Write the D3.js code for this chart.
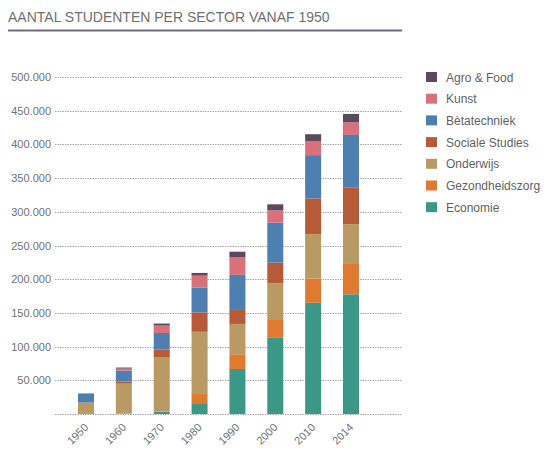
<!DOCTYPE html>
<html>
<head>
<meta charset="utf-8">
<script src="https://cdn.jsdelivr.net/npm/d3@7"></script>
<style>
  body { margin: 0; background: #fff; }
  text { font-family: "Liberation Sans", Arial, sans-serif; }
</style>
</head>
<body>
<svg id="chart"></svg>
<script>
// Data (students, thousands)
const years = ["1950", "1960", "1970", "1980", "1990", "2000", "2010", "2014"];
const sectors = ["Economie", "Gezondheidszorg", "Onderwijs", "Sociale Studies", "Bètatechniek", "Kunst", "Agro & Food"];
const economie       = [0.5, 0, 3, 14.8, 66.8, 113.8, 165, 177.6];
const gezondheidszorg = [1, 0.5, 0.5, 14.8, 21.8, 25.7, 36.1, 45];
const onderwijs      = [15, 44.5, 81, 92.4, 45, 54.4, 65.7, 58.9];
const socialeStudies = [0.5, 3.4, 11, 28.8, 20.8, 30.6, 53, 54.9];
const betatechniek   = [13, 16, 24.7, 36.5, 52, 59.3, 64.3, 77.6];
const kunst          = [0.5, 3, 11, 18, 26, 18.3, 21, 18.8];
const agroFood       = [0.3, 1.5, 3, 4, 8.4, 9, 10, 12.4];
const yTicks = [50000, 100000, 150000, 200000, 250000, 300000, 350000, 400000, 450000, 500000];
const colors = ["#3b9886", "#e07a30", "#b99a64", "#b65a3a", "#4d7fb0", "#d9707a", "#5b4a5f"];

const seriesValues = [economie, gezondheidszorg, onderwijs, socialeStudies, betatechniek, kunst, agroFood];
const table = years.map((y, i) => {
    const row = { year: y };
    sectors.forEach((s, k) => { row[s] = seriesValues[k][i] * 1000; });
    return row;
});

const W = 546, H = 460;
const svg = d3.select("#chart").attr("width", W).attr("height", H);

// Title with underline
svg.append("text")
    .attr("x", 8).attr("y", 22)
    .attr("fill", "#707070")
    .style("font-size", "14px")
    .text("AANTAL STUDENTEN PER SECTOR VANAF 1950");
svg.append("line")
    .attr("x1", 8).attr("x2", 402)
    .attr("y1", 30.5).attr("y2", 30.5)
    .attr("stroke", "#6c6a80").attr("stroke-width", 2);

// Scales
const x = d3.scaleBand().domain(years).range([78, 359]).paddingInner(0.577).paddingOuter(0);
const y = d3.scaleLinear().domain([0, 500000]).range([414, 77]);

// Grid lines
const grid = svg.append("g");
grid.selectAll("line")
    .data([0].concat(yTicks))
  .enter().append("line")
    .attr("x1", 55).attr("x2", 402)
    .attr("y1", d => Math.round(y(d)) + 0.5)
    .attr("y2", d => Math.round(y(d)) + 0.5)
    .attr("stroke", "#a9a6ab")
    .attr("stroke-dasharray", "1.5,1");

// Y axis labels
const fmt = d => d3.format(",")(d).replace(/,/g, ".");
const yAxis = svg.append("g")
    .attr("transform", "translate(51,0)")
    .call(d3.axisLeft(y).tickValues(yTicks).tickSize(0).tickPadding(0).tickFormat(fmt));
yAxis.select(".domain").remove();
yAxis.selectAll("text")
    .attr("fill", "#707078")
    .style("font-size", "11px");

// Stacked bars
const stack = d3.stack().keys(sectors)(table);
svg.append("g").selectAll("g")
    .data(stack)
  .enter().append("g")
    .attr("fill", (d, i) => colors[i])
  .selectAll("rect")
    .data(d => d)
  .enter().append("rect")
    .attr("x", d => x(d.data.year))
    .attr("width", x.bandwidth())
    .attr("y", d => y(d[1]))
    .attr("height", d => Math.max(0, y(d[0]) - y(d[1])));

// X axis labels (rotated)
const xAxis = svg.append("g")
    .attr("transform", "translate(0,419)")
    .call(d3.axisBottom(x).tickSize(0).tickPadding(0));
xAxis.select(".domain").remove();
xAxis.selectAll("text")
    .attr("fill", "#707078")
    .style("font-size", "11px")
    .attr("text-anchor", "end")
    .attr("dy", 0)
    .attr("transform", "translate(3,9) rotate(-45)");

// Legend (top entry first)
const legendKeys = sectors.slice().reverse();
const legendColors = colors.slice().reverse();
const legend = svg.append("g").selectAll("g")
    .data(legendKeys)
  .enter().append("g")
    .attr("transform", (d, i) => `translate(426,${72 + i * 21.7})`);
legend.append("rect")
    .attr("width", 11).attr("height", 10)
    .attr("fill", (d, i) => legendColors[i]);
legend.append("text")
    .attr("x", 20).attr("y", 9.5)
    .attr("fill", "#5f5f66")
    .style("font-size", "12px")
    .text(d => d);
</script>
</body>
</html>
